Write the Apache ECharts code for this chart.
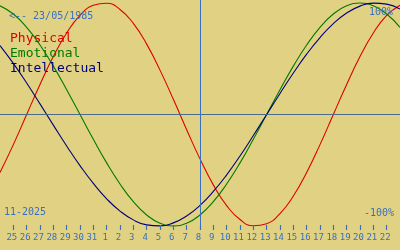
<!DOCTYPE html>
<html>
<head>
<meta charset="utf-8">
<script src="https://cdn.jsdelivr.net/npm/echarts@6/dist/echarts.min.js"></script>
<style>
html,body{margin:0;padding:0;background:#e0d282;}
#c{width:400px;height:250px;}
</style>
</head>
<body>
<div id="c"></div>
<script>
// Days shown: 24 Oct 2025 .. 23 Nov 2025
var dayLabels = ['24','25','26','27','28','29','30','31','1','2','3','4','5','6','7','8','9','10','11','12','13','14','15','16','17','18','19','20','21','22','23'];
var physical = [-0.520,-0.270,0.000,0.270,0.520,0.731,0.888,0.979,0.998,0.942,0.817,0.631,0.398,0.136,-0.136,-0.398,-0.631,-0.817,-0.942,-0.998,-0.979,-0.888,-0.731,-0.520,-0.270,0.000,0.270,0.520,0.731,0.888,0.979];
var emotional = [0.975,0.901,0.782,0.623,0.434,0.222,0.000,-0.222,-0.434,-0.623,-0.782,-0.901,-0.975,-1.000,-0.975,-0.901,-0.782,-0.623,-0.434,-0.222,0.000,0.222,0.434,0.623,0.782,0.901,0.975,1.000,0.975,0.901,0.782];
var intellectual = [0.618,0.458,0.282,0.095,-0.095,-0.282,-0.458,-0.618,-0.756,-0.866,-0.945,-0.990,-0.999,-0.972,-0.910,-0.815,-0.690,-0.541,-0.372,-0.189,0.000,0.189,0.372,0.541,0.690,0.815,0.910,0.972,0.999,0.990,0.945];
var seriesNames = ['Physical','Emotional','Intellectual'];
var birthText = '<-- 23/05/1985';
var monthText = '11-2025';
var topText = '100%';
var bottomText = '-100%';
var todayLabel = '8';

var TXT = '#3a6fc0';
var FONT = 'DejaVu Sans Mono';
var colors = ['#dd0000','#007a00','#00007a'];
var showIdx = function (i) { return i > 0 && i < dayLabels.length - 1; };

var chart = echarts.init(document.getElementById('c'), null, {renderer:'canvas'});
chart.setOption({
  animation: false,
  backgroundColor: '#e0d282',
  grid: [
    {left: 0, right: 0, top: 0, height: 230, containLabel: false},
    {left: 0, right: 0, top: 220, height: 5, containLabel: false}
  ],
  title: [
    {text: birthText, left: 9, top: 11, padding: 0, textStyle: {color: TXT, fontFamily: FONT, fontSize: 10, fontWeight: 'normal'}},
    {text: topText, right: 7, top: 7, padding: 0, textStyle: {color: TXT, fontFamily: FONT, fontSize: 10, fontWeight: 'normal'}},
    {text: bottomText, right: 6, top: 208, padding: 0, textStyle: {color: TXT, fontFamily: FONT, fontSize: 10, fontWeight: 'normal'}},
    {text: monthText, left: 4, top: 207, padding: 0, textStyle: {color: TXT, fontFamily: FONT, fontSize: 10, fontWeight: 'normal'}}
  ],
  legend: {
    orient: 'vertical', left: 5, top: 32, padding: 0, itemGap: 2,
    itemWidth: 0, itemHeight: 0, icon: 'rect', selectedMode: false,
    textStyle: {fontFamily: FONT, fontSize: 13, padding: 0},
    data: seriesNames.map(function (n, i) { return {name: n, textStyle: {color: colors[i]}}; })
  },
  xAxis: [
    {gridIndex: 0, type: 'category', boundaryGap: false, data: dayLabels, show: false},
    {gridIndex: 1, type: 'category', boundaryGap: false, data: dayLabels, position: 'bottom',
     axisLine: {show: true, onZero: false, lineStyle: {color: '#e0d282', width: 0.01}},
     axisTick: {show: true, inside: false, length: 5, interval: showIdx, alignWithLabel: true, lineStyle: {color: TXT, width: 1.2}},
     axisLabel: {show: true, interval: showIdx, color: TXT, fontFamily: FONT, fontSize: 9, margin: 8, padding: [0, 3, 0, 0]},
     splitLine: {show: false}, z: 10}
  ],
  yAxis: [
    {gridIndex: 0, type: 'value', min: -1.03587, max: 1.02691, show: false},
    {gridIndex: 1, type: 'value', min: 0, max: 1, show: false}
  ],
  series: [
    {name: seriesNames[0], type: 'line', data: physical, smooth: true, showSymbol: false, symbol: 'none',
     lineStyle: {color: colors[0], width: 1.1}, itemStyle: {color: colors[0]}, z: 3,
     markLine: {silent: true, symbol: 'none', label: {show: false},
       data: [{yAxis: 0, lineStyle: {color: '#4c6a8c', width: 1, type: 'solid'}},
              {xAxis: todayLabel, lineStyle: {color: '#3a6fc0', width: 1, type: 'solid'}}]}},
    {name: seriesNames[1], type: 'line', data: emotional, smooth: true, showSymbol: false, symbol: 'none',
     lineStyle: {color: colors[1], width: 1.1}, itemStyle: {color: colors[1]}, z: 3},
    {name: seriesNames[2], type: 'line', data: intellectual, smooth: true, showSymbol: false, symbol: 'none',
     lineStyle: {color: colors[2], width: 1.1}, itemStyle: {color: colors[2]}, z: 3}
  ]
});
</script>
</body>
</html>
